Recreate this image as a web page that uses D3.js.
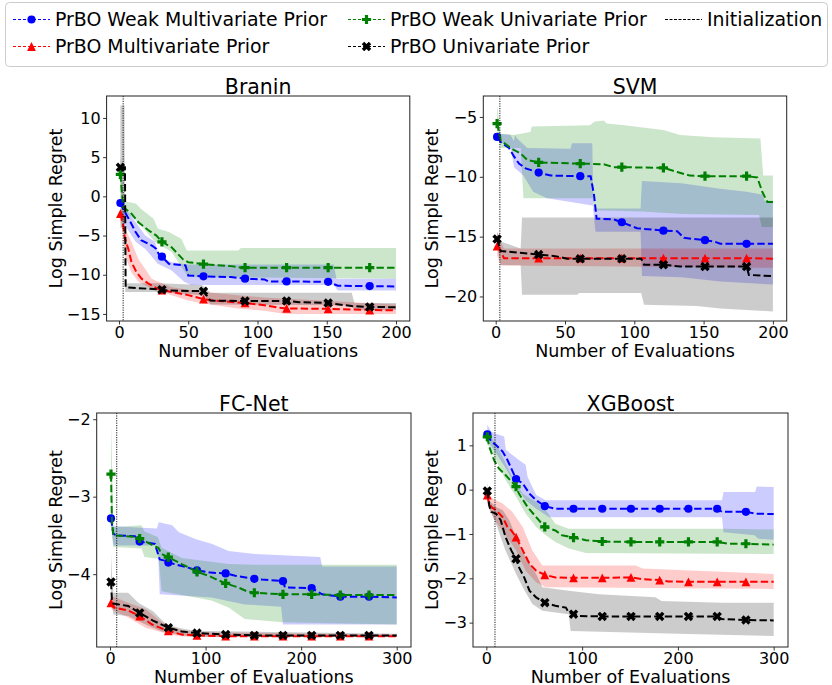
<!DOCTYPE html>
<html><head><meta charset="utf-8">
<script src="https://cdn.jsdelivr.net/npm/d3@7"></script>
<style>
body{margin:0;background:#fff}
svg{display:block}
text{font-family:"DejaVu Sans",sans-serif;fill:#000}
</style>
</head><body>
<svg id="c" width="832" height="685"></svg>
<script>
// ---------------- data ----------------
const seriesNames = ["PrBO Weak Multivariate Prior","PrBO Multivariate Prior","PrBO Weak Univariate Prior","PrBO Univariate Prior"];
const seriesColors = ["blue","red","green","black"];
const seriesMarkers = ["circle","triangle","plus","x"];
const initName = "Initialization";
const panelTitles = ["Branin","SVM","FC-Net","XGBoost"];
const xLabel = "Number of Evaluations";
const yLabel = "Log Simple Regret";
const xTicks200 = [0,50,100,150,200];
const xTicks300 = [0,100,200,300];
const yTicksBranin = [-15,-10,-5,0,5,10];
const yTicksSVM = [-20,-15,-10,-5];
const yTicksFC = [-4,-3,-2];
const yTicksXGB = [-3,-2,-1,0,1];
const markX200 = [1,31,61,91,121,151,181];
const markX300 = [1,31,61,91,121,151,181,211,241,271];
const initEvals = [3,3,7,9];

// Branin
const braninWMMean = [[1,-0.85],[3,-1.6],[7,-2.85],[12,-4.55],[16,-5.6],[24,-6.3],[27,-6.7],[29,-7.5],[31,-7.7],[36,-8.6],[48,-8.8],[50,-10.1],[61,-10.2],[81,-10.3],[91,-10.5],[105,-10.6],[108,-10.85],[121,-10.85],[151,-10.9],[158,-11.4],[181,-11.45],[200,-11.5]];
const braninWMUp = [[1,-0.5],[3,-1.15],[12,-3.3],[19,-5],[26,-5.8],[28,-7.1],[33,-8],[38,-8.4],[50,-8.7],[155,-8.7],[157,-10.5],[200,-10.5]];
const braninWMLo = [[1,-1.2],[3,-3.3],[12,-5.8],[19,-6.7],[28,-8.6],[38,-9.45],[47,-10.9],[52,-11.3],[155,-11.3],[158,-12.0],[200,-12.0]];
const braninMMean = [[1,-2.2],[3,-3.7],[4.3,-5.4],[6.7,-6.7],[9,-8.4],[12.7,-9.7],[16.3,-10.5],[21,-11.1],[28,-11.8],[31,-11.95],[38,-12.2],[50,-12.6],[61,-13.1],[69,-13.3],[91,-13.6],[105,-13.9],[115,-14.2],[121,-14.3],[151,-14.35],[181,-14.5],[200,-14.55]];
const braninMUp = [[1,-1.5],[3,-2.2],[4.3,-4.1],[9,-5.8],[14,-8],[18.75,-9.2],[23.6,-10.5],[28.4,-10.9],[38,-11.6],[62,-12.2],[86,-12.6],[105,-12.9],[200,-13.8]];
const braninMLo = [[1,-3],[3,-5],[4.3,-7.5],[9,-9.7],[14,-10.9],[23.6,-11.8],[38,-12.6],[50,-13.3],[62,-13.7],[86,-14.3],[105,-14.6],[120,-15.0],[200,-15.0]];
const braninWUMean = [[1,2.8],[3,-1.36],[9,-2.2],[14,-3.3],[21,-4.3],[27,-5.0],[31,-5.8],[38,-6.5],[46,-8.0],[50,-8.4],[61,-8.65],[81,-8.9],[88,-9.1],[91,-9.1],[121,-9.1],[151,-9.1],[181,-9.1],[200,-9.1]];
const braninWUUp = [[1,5],[2,4],[3,-0.6],[12,-0.9],[16,-1.6],[25,-2.85],[28,-4.1],[36,-4.55],[45,-5.4],[49,-6.9],[86,-6.9],[88,-6.6],[200,-6.6]];
const braninWULo = [[1,1],[2,-0.5],[3,-1.8],[14,-3.3],[26,-5.8],[38,-7.1],[50,-10.3],[200,-10.5]];
const braninUMean = [[1,3.7],[4.3,3.7],[4.8,-11.6],[31,-11.9],[35,-12.0],[61,-12.1],[66,-13.3],[91,-13.35],[121,-13.35],[130,-13.5],[151,-13.6],[168,-14.0],[181,-14.1],[200,-14.15]];
const braninUUp = [[1,11.6],[4,11.6],[4.5,-11.1],[30,-11.1],[60,-11.3],[66,-12.3],[168,-12.3],[170,-13.6],[200,-13.6]];
const braninULo = [[1,-4],[4,-4],[4.5,-12.2],[30,-12.2],[60,-12.6],[66,-13.8],[168,-13.9],[170,-14.5],[200,-14.5]];

// SVM
const svmWMMean = [[1,-6.67],[3.6,-7.1],[9.6,-7.6],[13.2,-8.3],[16.8,-8.9],[21.6,-9.3],[31,-9.65],[39.7,-9.9],[61,-9.95],[68.5,-9.95],[70.9,-11.5],[72.8,-13.5],[85,-13.55],[91,-13.8],[102,-14.3],[121,-14.5],[131,-14.55],[135.8,-15.1],[151,-15.3],[157.5,-15.4],[162,-15.6],[181,-15.6],[200,-15.6]];
const svmWMUp = [[1,-6.4],[10.8,-6.5],[13,-7.0],[14,-6.5],[15.5,-6.8],[22.8,-7.6],[54,-7.65],[55,-7.2],[69.7,-7.2],[70.5,-12.65],[104.5,-12.65],[105.5,-10.35],[134,-10.55],[162,-11.0],[181,-11.25],[193,-11.5],[194,-12.0],[200,-12.0]];
const svmWMLo = [[1,-6.9],[10.8,-7.6],[13.2,-9.2],[20,-9.9],[27,-11.25],[37,-11.8],[54,-12.1],[70,-12.4],[72,-14.6],[104.5,-14.6],[105.5,-18.3],[134,-18.4],[162,-18.75],[200,-19.0]];
const svmMMean = [[1,-15.8],[3.6,-16.25],[6,-16.8],[31,-16.8],[61,-16.8],[91,-16.8],[121,-16.8],[151,-16.8],[181,-16.8],[200,-16.85]];
const svmMUp = [[1,-14.6],[3.6,-15.4],[6,-16.0],[200,-16.0]];
const svmMLo = [[1,-16.6],[3.6,-17.4],[200,-17.6]];
const svmWUMean = [[1,-5.55],[3.6,-6.95],[10.8,-7.6],[18,-8.05],[22.8,-8.6],[31,-8.8],[61,-8.9],[78,-8.95],[85,-9.2],[91,-9.2],[121,-9.25],[131,-9.6],[140,-9.9],[151,-9.95],[181,-9.95],[188.7,-10.05],[192.3,-11.25],[196,-12.1],[200,-12.1]];
const svmWUUp = [[1,-4.0],[3.6,-6.4],[13,-6.5],[25,-6.25],[26,-5.8],[68,-5.7],[71,-5.4],[78,-5.3],[80,-5.55],[93,-5.7],[121,-6.1],[133,-6.5],[157,-6.7],[191,-6.8],[193,-9.9],[200,-9.9]];
const svmWULo = [[1,-6.3],[3.6,-7.6],[18,-7.6],[20,-11.8],[70,-11.8],[71,-12.8],[105,-12.9],[135,-13.1],[190,-13.2],[192,-14.2],[200,-14.2]];
const svmUMean = [[1,-15.2],[3.6,-16.2],[31,-16.5],[44,-16.65],[51.6,-16.85],[61,-16.85],[91,-16.85],[105,-16.85],[107,-17.35],[121,-17.35],[133,-17.5],[151,-17.5],[181,-17.5],[182.7,-18.2],[200,-18.3]];
const svmUUp = [[1,-14.6],[3.6,-15.4],[18,-16.0],[19,-13.4],[200,-13.4]];
const svmULo = [[1,-15.8],[3.6,-17.4],[18,-17.4],[19,-19.85],[59,-19.85],[60,-19.7],[105,-19.7],[107,-20.7],[145,-20.8],[162,-21.0],[200,-21.25]];

// FC-Net
const fcWMMean = [[1,-3.28],[3.5,-3.48],[7,-3.5],[26,-3.51],[31,-3.58],[47,-3.61],[52,-3.81],[59,-3.83],[61,-3.85],[80,-3.91],[91,-3.95],[105,-3.98],[121,-3.99],[131,-4.02],[151,-4.06],[159,-4.07],[181,-4.09],[183,-4.17],[211,-4.18],[222,-4.26],[241,-4.29],[271,-4.29],[300,-4.3]];
const fcWMUp = [[1,-3.2],[3.5,-3.38],[49,-3.41],[51,-3.33],[65,-3.37],[72,-3.46],[90,-3.55],[107,-3.61],[124,-3.7],[152,-3.74],[220,-3.78],[222,-3.9],[300,-3.9]];
const fcWMLo = [[1,-3.35],[3.5,-3.63],[50,-3.63],[52,-4.26],[106,-4.30],[141,-4.39],[179,-4.42],[181,-4.65],[300,-4.65]];
const fcMMean = [[1,-4.37],[3.5,-4.43],[19,-4.47],[31,-4.54],[44,-4.65],[60,-4.73],[61,-4.73],[75,-4.78],[91,-4.79],[121,-4.8],[151,-4.8],[181,-4.8],[211,-4.8],[241,-4.8],[271,-4.8],[300,-4.8]];
const fcMUp = [[1,-4.28],[19,-4.37],[37,-4.45],[54,-4.62],[72,-4.71],[89,-4.75],[300,-4.78]];
const fcMLo = [[1,-4.44],[3.5,-4.47],[19,-4.56],[37,-4.69],[54,-4.75],[72,-4.8],[89,-4.81],[300,-4.81]];
const fcWUMean = [[1,-2.71],[2,-3.31],[3.5,-3.5],[29.6,-3.52],[31,-3.54],[33,-3.55],[45,-3.63],[50.6,-3.66],[54,-3.74],[61,-3.78],[75,-3.87],[80,-3.9],[91,-3.97],[103,-4.02],[110,-4.06],[121,-4.12],[134,-4.17],[143,-4.22],[151,-4.24],[181,-4.26],[211,-4.26],[241,-4.27],[271,-4.27],[300,-4.27]];
const fcWUUp = [[1,-2.06],[2,-2.5],[3.5,-3.39],[33,-3.37],[36,-3.45],[50,-3.52],[54,-3.66],[75,-3.79],[124,-3.87],[152,-3.88],[300,-3.88]];
const fcWULo = [[1,-3.4],[3.5,-3.65],[33,-3.67],[36,-3.78],[51,-3.8],[54,-4.22],[106,-4.34],[124,-4.43],[141,-4.58],[180,-4.62],[300,-4.65]];
const fcUMean = [[1,-4.1],[2,-4.34],[3.5,-4.38],[19,-4.41],[31,-4.5],[45,-4.6],[61,-4.69],[75,-4.74],[91,-4.76],[121,-4.78],[151,-4.79],[181,-4.79],[211,-4.79],[241,-4.79],[271,-4.79],[300,-4.79]];
const fcUUp = [[1,-3.74],[2,-4.0],[3.5,-4.24],[19,-4.24],[29.6,-4.37],[45,-4.48],[59,-4.65],[75,-4.7],[89,-4.73],[300,-4.77]];
const fcULo = [[1,-4.3],[3.5,-4.52],[19,-4.54],[37,-4.65],[54,-4.74],[75,-4.79],[89,-4.81],[300,-4.81]];

// XGBoost
const xgbWMMean = [[1,1.25],[5,1.09],[10,1.01],[17,0.86],[22,0.67],[26,0.48],[31,0.24],[38,0.14],[45,-0.09],[52,-0.24],[61,-0.37],[72,-0.43],[91,-0.43],[121,-0.43],[151,-0.43],[181,-0.43],[211,-0.43],[241,-0.43],[246,-0.5],[271,-0.5],[281,-0.54],[300,-0.55]];
const xgbWMUp = [[1,1.47],[5,1.31],[10,1.26],[18.6,1.2],[20.4,0.9],[34,0.67],[41,0.56],[43,0.29],[52,-0.12],[62,-0.24],[246,-0.24],[247.6,-0.05],[280.6,-0.05],[282.3,0.07],[300,0.06]];
const xgbWMLo = [[1,1.12],[10,0.82],[20.4,0.48],[30.8,0.07],[41,-0.24],[52,-0.43],[65.5,-0.62],[246,-0.62],[247.6,-0.96],[280,-1.03],[284,-1.11],[300,-1.13]];
const xgbMMean = [[1,-0.12],[2,-0.24],[5,-0.39],[10,-0.46],[17,-0.62],[22,-0.84],[26,-0.92],[31,-1.07],[38,-1.37],[45,-1.67],[52,-1.83],[61,-1.92],[72,-1.98],[91,-1.99],[121,-1.99],[151,-1.98],[163,-2.02],[181,-2.04],[190,-2.07],[211,-2.08],[241,-2.08],[271,-2.08],[300,-2.08]];
const xgbMUp = [[1,-0.05],[6.5,-0.2],[17,-0.31],[27,-0.5],[38,-0.84],[48,-1.37],[58.5,-1.71],[156,-1.71],[163,-1.78],[300,-1.9]];
const xgbMLo = [[1,-0.3],[2,-0.39],[10,-0.73],[20,-1.03],[31,-1.37],[41,-1.83],[52,-2.09],[62,-2.2],[300,-2.24]];
const xgbWUMean = [[1,1.19],[3,0.97],[8,0.67],[13,0.48],[20,0.33],[31,0.07],[34,-0.09],[43,-0.39],[52,-0.62],[61,-0.84],[72,-0.92],[79,-1.03],[91,-1.08],[104,-1.14],[121,-1.17],[151,-1.18],[181,-1.18],[211,-1.18],[241,-1.18],[253,-1.22],[271,-1.22],[300,-1.24]];
const xgbWUUp = [[1,1.28],[10,1.05],[20,0.6],[27,0.29],[38,-0.09],[52,-0.27],[62,-0.46],[72,-0.77],[86,-0.88],[250,-0.88],[300,-0.9]];
const xgbWULo = [[1,1.05],[10,0.67],[20,0.22],[31,-0.16],[41,-0.54],[52,-0.84],[62,-1.03],[72,-1.18],[86,-1.33],[104,-1.43],[300,-1.45]];
const xgbUMean = [[1,-0.03],[3,-0.35],[5,-0.5],[10,-0.54],[15,-0.69],[20,-1.07],[26,-1.37],[31,-1.56],[34,-1.75],[39.5,-1.98],[45,-2.28],[52,-2.43],[61,-2.55],[72,-2.62],[83,-2.66],[86,-2.77],[91,-2.81],[97,-2.85],[121,-2.86],[151,-2.86],[181,-2.86],[211,-2.86],[241,-2.86],[246,-2.92],[271,-2.94],[300,-2.95]];
const xgbUUp = [[1,0.18],[3,-0.24],[10,-0.39],[17,-0.46],[24,-0.69],[34,-1.22],[41,-1.52],[52,-1.9],[58.5,-2.2],[86,-2.28],[117.5,-2.36],[176.5,-2.43],[183,-2.51],[246,-2.55],[300,-2.55]];
const xgbULo = [[1,-0.25],[2,-0.39],[10,-0.77],[20,-1.37],[31,-1.9],[38,-2.2],[48,-2.58],[58.5,-2.73],[86,-2.81],[88,-3.19],[200,-3.25],[300,-3.3]];

// ---------------- layout ----------------
const panels = [
  {title:panelTitles[0], left:106.6, right:409.8, top:96, bottom:321, xDomain:[-8.95,209.95], yDomain:[-15.9,12.8], xTicks:xTicks200, yTicks:yTicksBranin, marks:markX200, init:initEvals[0], ylabX:61.5, titleY:93.5, xlabY:357,
   series:[[braninWMMean,braninWMUp,braninWMLo],[braninMMean,braninMUp,braninMLo],[braninWUMean,braninWUUp,braninWULo],[braninUMean,braninUUp,braninULo]]},
  {title:panelTitles[1], left:483.3, right:786.7, top:96, bottom:321, xDomain:[-8.95,209.95], yDomain:[-22.05,-3.25], xTicks:xTicks200, yTicks:yTicksSVM, marks:markX200, init:initEvals[1], ylabX:438, titleY:93.5, xlabY:357,
   series:[[svmWMMean,svmWMUp,svmWMLo],[svmMMean,svmMUp,svmMLo],[svmWUMean,svmWUUp,svmWULo],[svmUMean,svmUUp,svmULo]]},
  {title:panelTitles[2], left:96.7, right:411, top:413, bottom:647, xDomain:[-13.95,314.95], yDomain:[-4.94,-1.92], xTicks:xTicks300, yTicks:yTicksFC, marks:markX300, init:initEvals[2], ylabX:61.5, titleY:410.5, xlabY:683,
   series:[[fcWMMean,fcWMUp,fcWMLo],[fcMMean,fcMUp,fcMLo],[fcWUMean,fcWUUp,fcWULo],[fcUMean,fcUUp,fcULo]]},
  {title:panelTitles[3], left:473, right:788, top:413, bottom:647, xDomain:[-13.95,314.95], yDomain:[-3.55,1.73], xTicks:xTicks300, yTicks:yTicksXGB, marks:markX300, init:initEvals[3], ylabX:438, titleY:410.5, xlabY:683,
   series:[[xgbWMMean,xgbWMUp,xgbWMLo],[xgbMMean,xgbMUp,xgbMLo],[xgbWUMean,xgbWUUp,xgbWULo],[xgbUMean,xgbUUp,xgbULo]]}
];

const svg = d3.select("#c");
const defs = svg.append("defs");
const minusFmt = v => String(v).replace("-", "\u2212");

function markerD(type){
  if(type==="circle") return d3.symbol(d3.symbolCircle, Math.PI*4.1*4.1)();
  if(type==="triangle"){const s=4.4; return `M0,${-s}L${s},${s}L${-s},${s}Z`;}
  const s = type==="plus" ? 4.6 : 5.0, w = type==="plus" ? 1.6 : 1.7;
  let pts = [[-w,-s],[w,-s],[w,-w],[s,-w],[s,w],[w,w],[w,s],[-w,s],[-w,w],[-s,w],[-s,-w],[-w,-w]];
  if(type==="x"){const c=Math.SQRT1_2; pts = pts.map(([a,b])=>[c*(a-b),c*(a+b)]);}
  return "M"+pts.map(p=>p[0].toFixed(2)+","+p[1].toFixed(2)).join("L")+"Z";
}

panels.forEach((p,pi)=>{
  const x = d3.scaleLinear().domain(p.xDomain).range([p.left,p.right]);
  const y = d3.scaleLinear().domain(p.yDomain).range([p.bottom,p.top]);
  const clipId = "clip"+pi;
  defs.append("clipPath").attr("id",clipId).append("rect")
    .attr("x",p.left).attr("y",p.top).attr("width",p.right-p.left).attr("height",p.bottom-p.top);
  const g = svg.append("g");
  const plot = g.append("g").attr("clip-path",`url(#${clipId})`);
  const line = d3.line().x(d=>x(d[0])).y(d=>y(d[1]));
  // bands
  p.series.forEach((s,si)=>{
    const poly = s[1].concat(s[2].slice().reverse());
    plot.append("path").attr("d",line(poly)+"Z")
      .attr("fill",seriesColors[si]).attr("fill-opacity",0.2).attr("stroke","none");
  });
  // mean lines + markers
  p.series.forEach((s,si)=>{
    plot.append("path").attr("d",line(s[0])).attr("fill","none")
      .attr("stroke",seriesColors[si]).attr("stroke-width",2).attr("stroke-dasharray","7.4,3.2");
    const pts = p.marks.map(mx=>s[0].find(d=>d[0]===mx)).filter(Boolean);
    const md = markerD(seriesMarkers[si]);
    plot.selectAll(null).data(pts).enter().append("path")
      .attr("transform",d=>`translate(${x(d[0])},${y(d[1])})`)
      .attr("d",md).attr("fill",seriesColors[si]);
  });
  // initialization line
  plot.append("line").attr("x1",x(p.init)).attr("x2",x(p.init)).attr("y1",p.top).attr("y2",p.bottom)
    .attr("stroke","#000").attr("stroke-width",0.9).attr("stroke-dasharray","1.2,1.2");
  // axes
  const xa = g.append("g").attr("transform",`translate(0,${p.bottom})`)
    .call(d3.axisBottom(x).tickValues(p.xTicks).tickSize(3.5).tickPadding(2.5).tickFormat(minusFmt));
  const ya = g.append("g").attr("transform",`translate(${p.left},0)`)
    .call(d3.axisLeft(y).tickValues(p.yTicks).tickSize(3.5).tickPadding(2.5).tickFormat(minusFmt));
  [xa,ya].forEach(a=>{
    a.select(".domain").remove();
    a.attr("font-family",null).attr("font-size",null);
    a.selectAll("line").attr("stroke","#000").attr("stroke-width",0.8);
    a.selectAll("text").style("font-size","16px").attr("fill","#000");
  });
  // frame
  g.append("rect").attr("x",p.left).attr("y",p.top).attr("width",p.right-p.left).attr("height",p.bottom-p.top)
    .attr("fill","none").attr("stroke","#222").attr("stroke-width",1);
  // title and labels
  g.append("text").attr("x",(p.left+p.right)/2).attr("y",p.titleY).attr("text-anchor","middle")
    .style("font-size","20.5px").text(p.title);
  g.append("text").attr("x",(p.left+p.right)/2).attr("y",p.xlabY).attr("text-anchor","middle")
    .style("font-size","17.5px").text(xLabel);
  g.append("text").attr("transform",`translate(${p.ylabX},${(p.top+p.bottom)/2}) rotate(-90)`)
    .attr("text-anchor","middle").style("font-size","17.5px").text(yLabel);
});

// ---------------- legend ----------------
const leg = svg.append("g");
leg.append("rect").attr("x",5.5).attr("y",2.5).attr("width",822).attr("height",64).attr("rx",4)
  .attr("fill","#fff").attr("stroke","#ccc").attr("stroke-width",1);
const legItems = [
  {name:seriesNames[0], color:seriesColors[0], marker:seriesMarkers[0], x:13, y:19.5},
  {name:seriesNames[1], color:seriesColors[1], marker:seriesMarkers[1], x:13, y:46.5},
  {name:seriesNames[2], color:seriesColors[2], marker:seriesMarkers[2], x:348, y:19.5},
  {name:seriesNames[3], color:seriesColors[3], marker:seriesMarkers[3], x:348, y:46.5},
  {name:initName, color:"#000", marker:null, x:665, y:19.5}
];
legItems.forEach(it=>{
  const li = leg.append("g");
  if(it.marker){
    li.append("line").attr("x1",it.x).attr("x2",it.x+37).attr("y1",it.y).attr("y2",it.y)
      .attr("stroke",it.color).attr("stroke-width",1.2).attr("stroke-dasharray","3,2");
    li.append("path").attr("transform",`translate(${it.x+18.5},${it.y})`).attr("d",markerD(it.marker)).attr("fill",it.color);
  } else {
    li.append("line").attr("x1",it.x).attr("x2",it.x+37).attr("y1",it.y).attr("y2",it.y)
      .attr("stroke",it.color).attr("stroke-width",1).attr("stroke-dasharray","3,1.5");
  }
  li.append("text").attr("x",it.x+42).attr("y",it.y+6.8).style("font-size","18.9px").text(it.name);
});
</script>
</body></html>
